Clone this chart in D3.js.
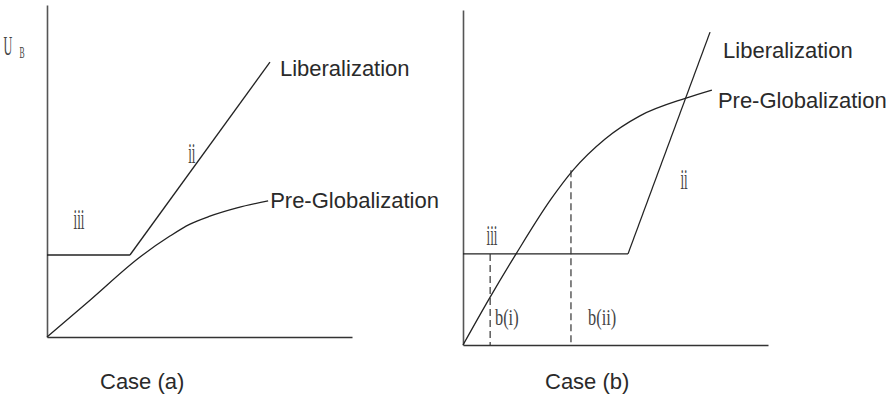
<!DOCTYPE html>
<html>
<head>
<meta charset="utf-8">
<script src="https://cdn.jsdelivr.net/npm/d3@7"></script>
<style>
  html, body { margin: 0; padding: 0; background: #fff; }
  svg { display: block; }
  .lbl { font-family: "Liberation Sans", Arial, sans-serif; font-size: 22px; fill: #2a2a2a; }
  .num { font-family: "Liberation Serif", "Times New Roman", serif; fill: #444; }
</style>
</head>
<body>
<svg id="chart" width="895" height="397"></svg>
<script>
// Schematic utility curves, unitless 0–100 on both axes of each panel.

// Case (a)
const floorA = [[0, 24.7], [27.2, 24.7]];
const liberalizationA = [[27.2, 24.7], [73.1, 82.8]];
const preGlobalizationA = [[0, 0], [14.1, 11.1], [30.5, 24.1], [40.3, 30.4], [46.9, 34.0], [53.4, 36.4], [62.3, 38.9], [72.5, 41.0]];

// Case (b)
const floorB = [[0, 27.2], [54.1, 27.2]];
const liberalizationB = [[54.1, 27.2], [81.0, 93.4]];
const preGlobalizationB = [[0, 0], [8.9, 14.3], [17.4, 27.2], [28.9, 43.6], [36.1, 52.2], [46.6, 61.5], [58.0, 68.4], [73.1, 73.7], [81.6, 76.1]];
const dashedB = [[8.9, 27.2], [35.4, 52.2]];   // [x, top] of each dashed drop line

// Text labels
const caseLabels = ["Case (a)", "Case (b)"];
const seriesLabels = ["Liberalization", "Pre-Globalization"];
const regionLabelsA = [{ t: "ii", x: 47.5, y: 52.5 }, { t: "iii", x: 10.5, y: 32.5 }];
const regionLabelsB = [{ t: "iii", x: 9.5, y: 30 }, { t: "ii", x: 72.5, y: 46.5 }];
const dropLabels = [{ t: "b(i)", x: 10.5, y: 6 }, { t: "b(ii)", x: 41, y: 6 }];

const svg = d3.select("#chart");

const panels = [
  { x0: 47, x1: 352, y0: 337, y1: 5 },
  { x0: 463, x1: 768, y0: 345, y1: 10 }
];

function makeScales(p) {
  return {
    x: d3.scaleLinear().domain([0, 100]).range([p.x0, p.x1]),
    y: d3.scaleLinear().domain([0, 100]).range([p.y0, p.y1])
  };
}

function drawAxes(g, s) {
  g.append("g")
    .attr("transform", `translate(0,${s.y(0)})`)
    .call(d3.axisBottom(s.x).tickValues([]).tickSizeOuter(0))
    .call(a => a.select(".domain").attr("stroke", "#333").attr("stroke-width", 1.6));
  g.append("g")
    .attr("transform", `translate(${s.x(0)},0)`)
    .call(d3.axisLeft(s.y).tickValues([]).tickSizeOuter(0))
    .call(a => a.select(".domain").attr("stroke", "#555").attr("stroke-width", 1.6));
}

function drawLine(g, s, data, curve) {
  const line = d3.line().x(d => s.x(d[0])).y(d => s.y(d[1])).curve(curve || d3.curveLinear);
  g.append("path").datum(data)
    .attr("d", line)
    .attr("fill", "none")
    .attr("stroke", "#222")
    .attr("stroke-width", 1.3);
}

// Condensed serif numerals
function roman(g, s, items, size) {
  items.forEach(d => {
    g.append("text")
      .attr("class", "num")
      .attr("transform", `translate(${s.x(d.x)},${s.y(d.y)}) scale(0.45,1)`)
      .attr("text-anchor", "middle")
      .attr("font-size", size)
      .text(d.t);
  });
}

// ---- Case (a)
const sA = makeScales(panels[0]);
const gA = svg.append("g");
drawAxes(gA, sA);
drawLine(gA, sA, floorA);
drawLine(gA, sA, liberalizationA);
drawLine(gA, sA, preGlobalizationA, d3.curveMonotoneX);
roman(gA, sA, regionLabelsA, 29);

const libEndA = liberalizationA[liberalizationA.length - 1];
const pgEndA = preGlobalizationA[preGlobalizationA.length - 1];
gA.append("text").attr("class", "lbl")
  .attr("x", sA.x(libEndA[0]) + 10).attr("y", sA.y(libEndA[1]) + 14)
  .text(seriesLabels[0]);
gA.append("text").attr("class", "lbl")
  .attr("x", sA.x(pgEndA[0]) + 2).attr("y", sA.y(pgEndA[1]) + 7)
  .text(seriesLabels[1]);
gA.append("text").attr("class", "lbl")
  .attr("x", 100).attr("y", 389).text(caseLabels[0]);

// Vertical axis symbol
const ub = svg.append("text").attr("class", "num")
  .attr("transform", "translate(14,55) scale(0.45,1)")
  .attr("text-anchor", "middle").attr("font-size", 27);
ub.append("tspan").text("U");
ub.append("tspan").attr("font-size", 17).attr("dx", 16).attr("dy", 3).text("B");

// ---- Case (b)
const sB = makeScales(panels[1]);
const gB = svg.append("g");
drawAxes(gB, sB);
drawLine(gB, sB, floorB);
drawLine(gB, sB, liberalizationB);
drawLine(gB, sB, preGlobalizationB, d3.curveMonotoneX);

dashedB.forEach(d => {
  gB.append("line")
    .attr("x1", sB.x(d[0])).attr("x2", sB.x(d[0]))
    .attr("y1", sB.y(d[1])).attr("y2", sB.y(0))
    .attr("stroke", "#333").attr("stroke-width", 1.2)
    .attr("stroke-dasharray", "7,4");
});

roman(gB, sB, regionLabelsB, 29);
dropLabels.forEach(d => {
  gB.append("text")
    .attr("class", "num")
    .attr("transform", `translate(${sB.x(d.x)},${sB.y(d.y)}) scale(0.68,1)`)
    .attr("font-size", 24)
    .text(d.t);
});

const libEndB = liberalizationB[liberalizationB.length - 1];
const pgEndB = preGlobalizationB[preGlobalizationB.length - 1];
gB.append("text").attr("class", "lbl")
  .attr("x", sB.x(libEndB[0]) + 13).attr("y", sB.y(libEndB[1]) + 26)
  .text(seriesLabels[0]);
gB.append("text").attr("class", "lbl")
  .attr("x", sB.x(pgEndB[0]) + 6).attr("y", sB.y(pgEndB[1]) + 18)
  .text(seriesLabels[1]);
gB.append("text").attr("class", "lbl")
  .attr("x", 545).attr("y", 389).text(caseLabels[1]);
</script>
</body>
</html>
